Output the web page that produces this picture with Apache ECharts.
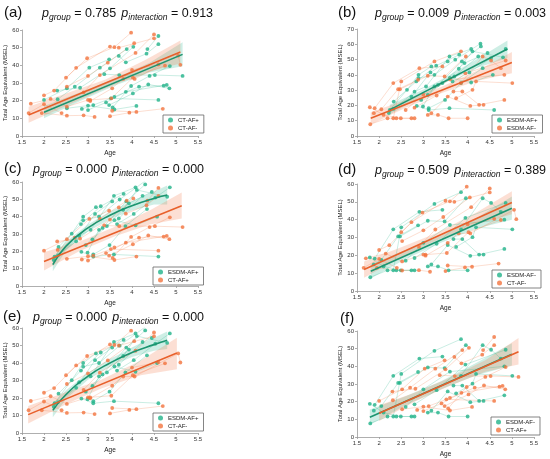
<!DOCTYPE html>
<html><head><meta charset="utf-8">
<script src="https://cdn.jsdelivr.net/npm/echarts@6/dist/echarts.min.js"></script>
<style>html,body{margin:0;padding:0;background:#fff}#c{width:550px;height:459px}</style>
</head><body><div id="c"></div>
<script>
// ---------- DATA (age in years, MSEL total age equivalent) ----------
// each group: list of subjects, each subject a list of [age, score] visits
const CT_AFpos = [
 [[2.0,20.4],[2.52,27.0],[3.03,38.7],[3.48,43.4]],
 [[2.31,20.8],[2.7,27.9],[3.27,38.7],[3.88,49.2]],
 [[2.3,25.7],[2.82,27.3],[3.5,38.3],[4.03,50.5]],
 [[2.52,15.7],[3.0,17.2],[3.6,15.0],[4.1,17.0]],
 [[2.86,15.3],[3.12,17.5],[3.52,21.3],[4.6,20.4]],
 [[3.0,14.7],[3.41,19.0],[3.86,25.0],[4.79,28.9]],
 [[3.48,17.5],[4.02,24.1],[4.37,29.2],[4.85,27.0]],
 [[3.56,16.2],[3.98,28.3],[4.4,34.0],[4.86,39.6]],
 [[3.37,35.0],[3.71,34.5],[4.52,34.5],[5.15,34.0]],
 [[3.7,45.3],[3.86,41.7],[4.33,46.6],[4.6,52.0]],
 [[3.6,22.2],[4.16,27.9],[4.72,28.5]],
 [[4.35,49.2],[4.6,56.6]]
];
const CT_AFneg = [
 [[1.65,13.0],[2.0,18.0],[2.4,13.0]],
 [[1.7,18.3],[2.15,21.0],[2.52,16.6],[3.0,20.4]],
 [[1.95,13.0],[2.52,11.5],[2.9,11.7],[3.15,10.8]],
 [[2.0,23.0],[2.23,25.7],[2.73,38.6],[3.5,50.6]],
 [[2.5,33.0],[2.98,44.0],[3.6,50.3],[3.98,58.5]],
 [[2.52,28.0],[3.0,34.0],[3.45,41.5],[4.05,52.5]],
 [[2.9,24.7],[3.27,34.5],[4.08,47.0],[4.5,57.5]],
 [[3.05,19.8],[3.55,27.0],[4.0,37.4],[4.6,40.5]],
 [[3.05,20.4],[3.53,21.3],[4.02,33.0],[4.75,39.8]],
 [[3.8,32.3],[4.06,32.3],[5.05,45.5],[5.1,40.3]],
 [[3.5,11.2],[3.94,13.2],[4.7,15.4]],
 [[3.55,14.3],[4.1,13.6]],
 [[3.7,50.0],[4.5,55.3]]
];
const ESDM_AFpos = [
 [[2.24,17.0],[2.63,30.2],[2.89,40.0],[3.18,45.5]],
 [[2.32,17.7],[2.73,25.8],[3.16,41.6],[3.55,48.8]],
 [[2.33,22.5],[2.84,35.7],[3.29,46.0],[3.81,53.2]],
 [[2.22,15.0],[2.8,29.0],[3.06,32.4],[3.59,52.0],[4.08,56.9]],
 [[2.85,19.7],[3.12,17.0],[3.59,18.2],[4.6,17.0]],
 [[2.89,37.9],[3.25,40.0],[3.72,49.9],[4.29,60.4]],
 [[2.95,23.6],[3.33,33.5],[3.87,48.8],[4.3,58.6]],
 [[2.99,19.3],[3.25,32.4],[3.7,39.0],[4.24,52.0]],
 [[3.1,26.9],[3.43,34.6],[3.93,47.7],[4.45,54.3]],
 [[3.12,18.2],[3.49,23.6],[3.85,34.6],[4.34,44.4]],
 [[3.66,35.7],[4.04,41.6],[4.53,51.0],[4.86,56.9]],
 [[3.6,38.0],[4.08,35.0],[4.57,40.0]],
 [[3.8,44.0],[4.11,55.4],[4.8,51.5]]
];
const ESDM_AFneg = [
 [[1.79,18.8],[2.1,13.8],[2.49,11.6],[2.8,11.6]],
 [[1.8,7.7],[2.19,11.6],[2.39,11.6],[2.73,11.6]],
 [[1.88,14.9],[2.05,17.5],[2.43,30.6],[2.88,36.8]],
 [[1.9,18.2],[2.32,34.6],[2.91,44.4],[3.43,45.5]],
 [[2.32,11.6],[2.5,35.7],[3.25,48.8],[3.85,55.4]],
 [[2.47,30.6],[3.1,39.4],[3.48,39.0],[3.96,52.0]],
 [[3.1,13.8],[3.33,13.8],[3.57,11.6],[4.0,11.6]],
 [[3.18,14.9],[3.55,25.8],[4.06,19.7],[4.36,20.4]],
 [[3.68,29.1],[3.88,29.1],[4.26,20.4],[4.83,23.6]],
 [[3.74,24.7],[4.11,30.2],[4.19,35.7],[5.01,34.6]],
 [[3.85,34.6],[4.34,52.0],[4.53,49.4],[4.75,44.4]],
 [[2.6,17.0],[3.0,27.0],[3.6,37.0],[4.83,40.0]],
 [[2.8,18.5],[3.3,26.5],[3.95,41.0],[4.86,49.4]]
];

// fitted trajectories [age, value] and confidence bands [age, low, high]
const fitA_G = [[2.0,13.4],[5.15,46.2]];
const bandA_G = [[2.0,10,17],[2.8,19.5,24.5],[3.6,28.5,32.5],[4.4,36,41.5],[5.15,39.5,53]];
const fitA_O = [[1.65,11.9],[5.1,47.5]];
const bandA_O = [[1.65,7.5,16.5],[2.5,17,24],[3.4,27,32],[4.3,36,43],[5.1,41,54]];

const fitB_G = [[2.24,17.1],[4.9,56.9]];
const bandB_G = [[2.24,14,20.5],[3.0,26.5,30.5],[3.6,36.5,40],[4.2,44.5,50],[4.9,51,62.5]];
const fitB_O = [[1.81,11.6],[5.0,48.1]];
const bandB_O = [[1.81,7.5,15.5],[2.6,18.5,23.5],[3.4,28,32],[4.2,36,42.5],[5.0,41,55]];

const fitC_G = [[2.2,12.3],[2.5,23.0],[3.0,33.5],[3.5,40.8],[4.0,46.3],[4.5,50.5],[4.8,52.5]];
const bandC_G = [[2.2,8.5,16],[2.5,20.5,25.5],[3.0,31.5,35.5],[3.5,38.5,43],[4.0,43.5,49],[4.5,47,54.5],[4.8,47,58]];
const fitC_O = [[2.0,14.2],[5.13,46.3]];
const bandC_O = [[2.0,9,19.5],[2.8,20,25.5],[3.6,28.5,34],[4.4,35.5,43.5],[5.13,39,54]];

const fitD_G = [[1.81,11.1],[5.0,46.4]];
const bandD_G = [[1.81,7,15],[2.6,18,23],[3.4,27,31],[4.2,35,41],[5.0,40,53]];
const fitD_O = [[1.66,12.0],[5.0,49.6]];
const bandD_O = [[1.66,7.5,16.5],[2.5,19,24.5],[3.3,28.5,32.5],[4.2,37.5,44],[5.0,43,56]];

const fitE_G = [[2.2,12.9],[2.5,22.0],[3.0,32.5],[3.5,40.0],[4.0,46.0],[4.5,50.5],[4.8,53.0]];
const bandE_G = [[2.2,9,17],[2.5,19.5,24.5],[3.0,30.5,34.5],[3.5,38,42.5],[4.0,43.5,48.5],[4.5,47,54.5],[4.8,48,58]];
const fitE_O = [[1.64,10.5],[5.02,45.7]];
const bandE_O = [[1.64,5.5,15.5],[2.5,16.5,23.5],[3.3,25.5,30.5],[4.2,33,41.5],[5.02,36.5,54.5]];

const fitF_G = [[1.79,11.2],[5.0,46.8]];
const bandF_G = [[1.79,7,15.5],[2.6,18,23],[3.4,27,31.5],[4.2,35,42],[5.0,40.5,53]];
const fitF_O = [[2.0,13.4],[5.15,48.3]];
const bandF_O = [[2.0,9,18],[2.8,20,25],[3.6,29,33.5],[4.4,37,43.5],[5.15,41,56]];

const pGroup = ['0.785','0.009','0.000','0.509','0.000',null];
const pInter = ['0.913','0.003','0.000','0.389','0.000',null];
const panelLetters = ['(a)','(b)','(c)','(d)','(e)','(f)'];
const yMaxes = [60,70,60,60,60,60];
const xTickMin = 1.5, xTickMax = 5.5, xTickStep = 0.5, yTickStep = 10;

// ---------- PANEL SETUP ----------
const FONT = '"Liberation Sans", Arial, Helvetica, sans-serif';
const GREEN = '#22b38a', ORANGE = '#f3743f';
const GREEN_L = '#1c9570', ORANGE_L = '#e8602b';
const panels = [
 {grid:{left:22,top:30,width:176,height:106}, g:CT_AFpos, o:CT_AFneg, gn:'CT-AF+', on:'CT-AF-', fg:fitA_G, fo:fitA_O, bg:bandA_G, bo:bandA_O, lab:[4,5], tit:[42,6], leg:[163,115]},
 {grid:{left:357,top:29,width:177,height:107}, g:ESDM_AFpos, o:ESDM_AFneg, gn:'ESDM-AF+', on:'ESDM-AF-', fg:fitB_G, fo:fitB_O, bg:bandB_G, bo:bandB_O, lab:[338,5], tit:[375,6], leg:[492,115]},
 {grid:{left:22,top:182,width:176,height:104}, g:ESDM_AFpos, o:CT_AFpos, gn:'ESDM-AF+', on:'CT-AF+', fg:fitC_G, fo:fitC_O, bg:bandC_G, bo:bandC_O, lab:[4,161], tit:[33,162], leg:[153,267]},
 {grid:{left:357,top:184,width:177,height:107}, g:ESDM_AFneg, o:CT_AFneg, gn:'ESDM-AF-', on:'CT-AF-', fg:fitD_G, fo:fitD_O, bg:bandD_G, bo:bandD_O, lab:[338,162], tit:[375,163], leg:[492,270]},
 {grid:{left:22,top:328,width:176,height:105}, g:ESDM_AFpos, o:CT_AFneg, gn:'ESDM-AF+', on:'CT-AF-', fg:fitE_G, fo:fitE_O, bg:bandE_G, bo:bandE_O, lab:[3,309], tit:[33,310], leg:[153,413]},
 {grid:{left:357,top:331,width:177,height:106}, g:ESDM_AFneg, o:CT_AFpos, gn:'ESDM-AF-', on:'CT-AF+', fg:fitF_G, fo:fitF_O, bg:bandF_G, bo:bandF_O, lab:[340,311], tit:null, leg:[491,417]}
];

function bandSeries(band, color, gi){
  return {type:'custom', xAxisIndex:gi, yAxisIndex:gi, silent:true, z:1, clip:true,
    data:[band[0]],
    renderItem:function(params, api){
      const up = band.map(b=>api.coord([b[0],b[2]]));
      const lo = band.map(b=>api.coord([b[0],b[1]])).reverse();
      return {type:'polygon', shape:{points:up.concat(lo)}, style:{fill:color}};
    }};
}

const option = {animation:false, textStyle:{fontFamily:FONT},
  grid:[], xAxis:[], yAxis:[], series:[], legend:[], title:[]};

const richTitle = {
  p:{fontStyle:'italic', fontWeight:'normal', fontSize:12.5, lineHeight:16, fontFamily:FONT, color:'#111'},
  s:{fontStyle:'italic', fontWeight:'normal', fontSize:8.5, lineHeight:9, padding:[4,0,0,0], verticalAlign:'bottom', fontFamily:FONT, color:'#111'},
  n:{fontWeight:'normal', fontSize:12.5, lineHeight:16, fontFamily:FONT, color:'#111'},
  g:{fontSize:6, lineHeight:16}
};

panels.forEach((P, i) => {
  option.grid.push(Object.assign({containLabel:false}, P.grid));
  option.xAxis.push({type:'value', gridIndex:i, min:xTickMin, max:xTickMax, interval:xTickStep,
    axisLine:{show:true, onZero:false, lineStyle:{color:'#9a9a9a', width:0.8}},
    axisTick:{show:true, length:2, lineStyle:{color:'#9a9a9a', width:0.8}},
    axisLabel:{fontSize:6, color:'#333', margin:3, formatter:v=>String(v)},
    splitLine:{show:false},
    name:'Age', nameLocation:'middle', nameGap:14, nameTextStyle:{fontSize:6.5, color:'#222'}});
  option.yAxis.push({type:'value', gridIndex:i, min:0, max:yMaxes[i], interval:yTickStep,
    axisLine:{show:true, lineStyle:{color:'#9a9a9a', width:0.8}},
    axisTick:{show:true, length:2, lineStyle:{color:'#9a9a9a', width:0.8}},
    axisLabel:{fontSize:6, color:'#333', margin:3},
    splitLine:{show:false},
    name:'Total Age Equivalent (MSEL)', nameLocation:'middle', nameGap:14, nameTextStyle:{fontSize:6, color:'#222'}});

  const gName = i + ':' + P.gn, oName = i + ':' + P.on;
  option.series.push(bandSeries(P.bg, 'rgba(34,179,138,0.22)', i));
  option.series.push(bandSeries(P.bo, 'rgba(240,110,60,0.22)', i));
  [[P.g, GREEN],[P.o, ORANGE]].forEach(([grp, col]) => {
    option.series.push({type:'lines', coordinateSystem:'cartesian2d', xAxisIndex:i, yAxisIndex:i,
      polyline:true, silent:true, z:2, symbol:'none',
      data:grp.map(s=>({coords:s})), lineStyle:{color:col, width:0.8, opacity:0.3}});
  });
  option.series.push({type:'scatter', name:gName, xAxisIndex:i, yAxisIndex:i, z:3,
    data:P.g.flat(), symbolSize:3.8, itemStyle:{color:GREEN}});
  option.series.push({type:'scatter', name:oName, xAxisIndex:i, yAxisIndex:i, z:3,
    data:P.o.flat(), symbolSize:3.8, itemStyle:{color:ORANGE}});
  option.series.push({type:'line', xAxisIndex:i, yAxisIndex:i, z:4, silent:true,
    data:P.fg, showSymbol:false, smooth:P.fg.length>2, lineStyle:{color:GREEN_L, width:1.6}});
  option.series.push({type:'line', xAxisIndex:i, yAxisIndex:i, z:4, silent:true,
    data:P.fo, showSymbol:false, smooth:P.fo.length>2, lineStyle:{color:ORANGE_L, width:1.6}});

  option.legend.push({left:P.leg[0], top:P.leg[1], orient:'vertical', data:[gName, oName],
    formatter:n=>n.split(':')[1], icon:'circle', itemWidth:5, itemHeight:5, itemGap:2,
    selectedMode:false, textStyle:{fontSize:6, color:'#222'},
    borderColor:'#666', borderWidth:0.8, padding:[2,5,2,5], backgroundColor:'#fff'});

  option.title.push({text:panelLetters[i], left:P.lab[0], top:P.lab[1], padding:0,
    textStyle:{fontSize:15, fontWeight:'normal', color:'#111', fontFamily:FONT}});
  if (P.tit && pGroup[i] !== null) {
    option.title.push({left:P.tit[0], top:P.tit[1], padding:0,
      text:'{p|p}{s|group}{n| = ' + pGroup[i] + ' }{g| }{p|p}{s|interaction}{n| = ' + pInter[i] + '}',
      textStyle:{fontWeight:'normal', rich:richTitle}});
  }
});

const chart = echarts.init(document.getElementById('c'), null, {renderer:'canvas'});
chart.setOption(option);
</script>
</body></html>
